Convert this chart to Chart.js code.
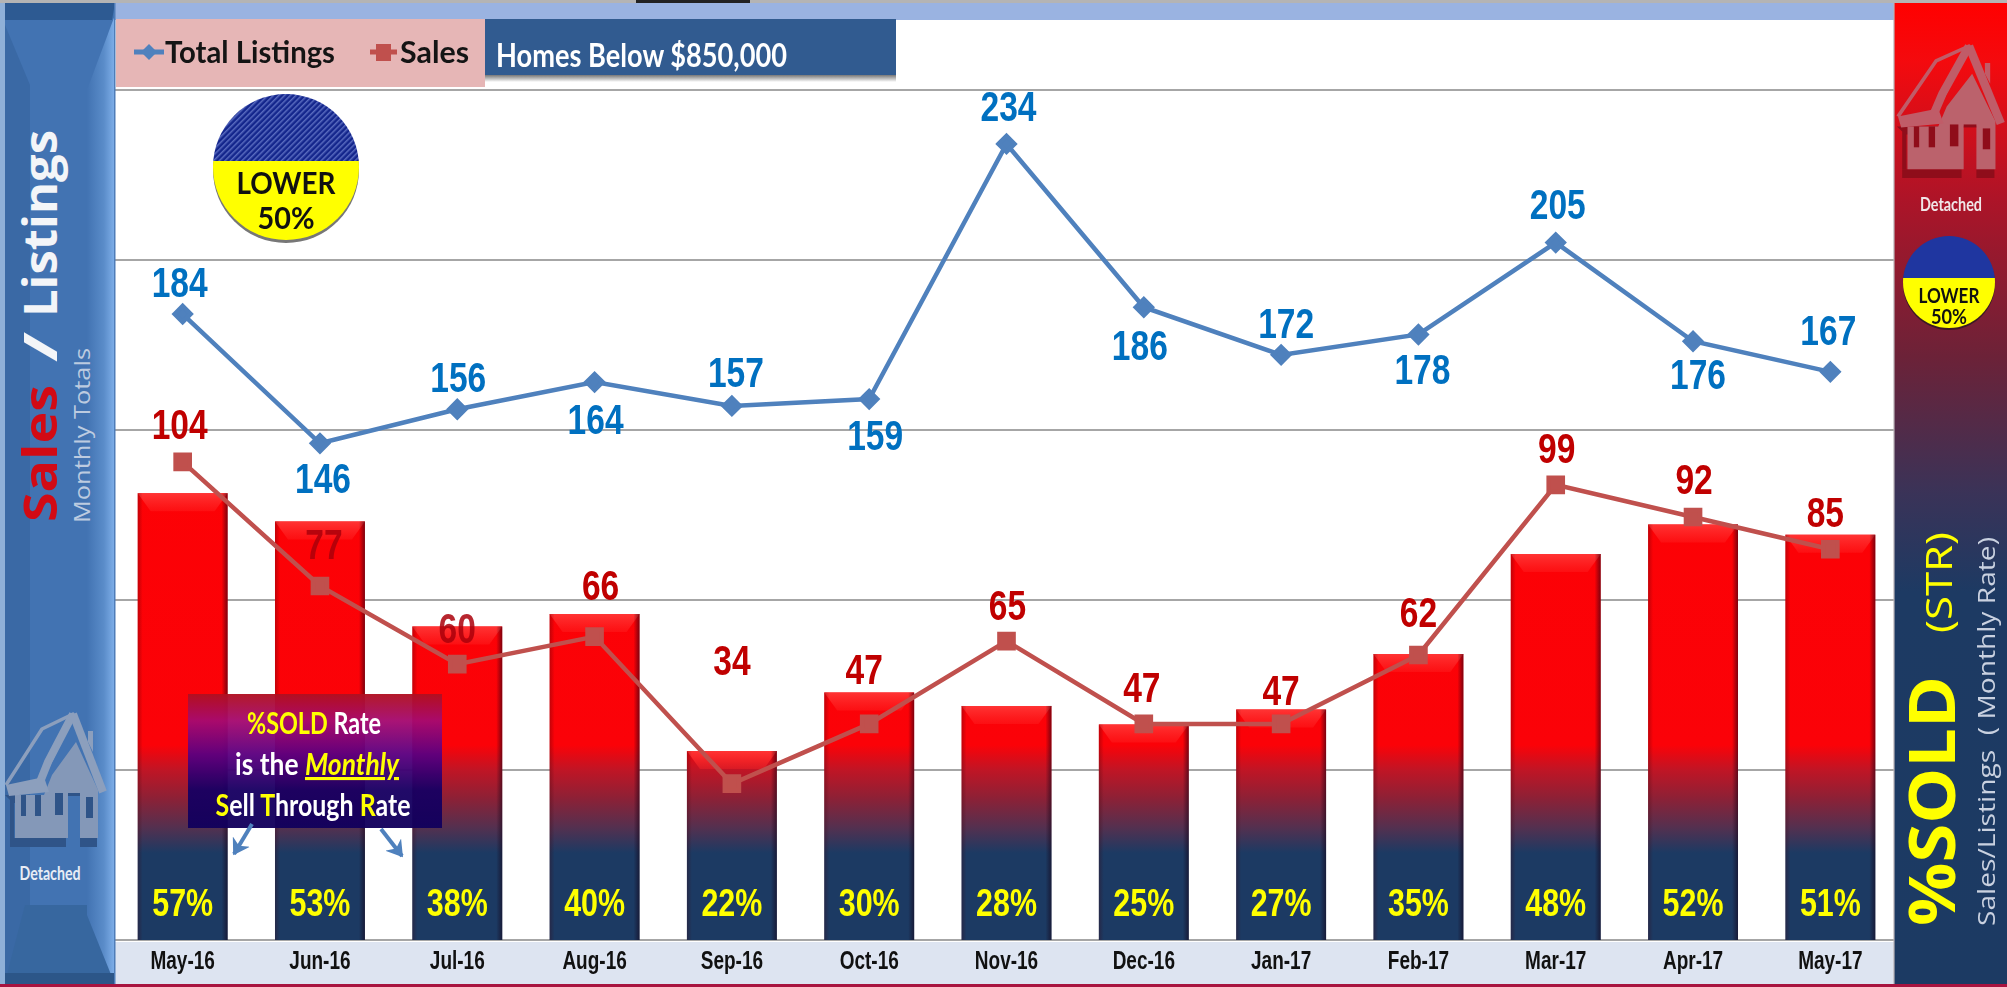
<!DOCTYPE html>
<html><head><meta charset="utf-8">
<script src="https://cdn.jsdelivr.net/npm/chart.js@4"></script>
<style>
html,body{margin:0;padding:0;background:#fff;overflow:hidden}
#wrap{position:relative;width:2007px;height:987px}
#wrap>*{position:absolute;left:0;top:0}
text{font-family:Lato,"Open Sans",sans-serif}
</style></head><body>
<div id="wrap">
<svg id="under" width="2007" height="987">
  <defs>
    <linearGradient id="boxShade" x1="0" y1="0" x2="0" y2="1"><stop offset="0" stop-color="#777"/><stop offset="1" stop-color="#fff"/></linearGradient>
  </defs>
  <rect x="115" y="3" width="1780" height="17" fill="#9ab3e1"/>
  <rect x="116" y="19" width="369" height="68" fill="#e6b6b6"/>
  <rect x="485" y="75" width="411" height="7" fill="url(#boxShade)"/>
  <rect x="485" y="19" width="411" height="56" fill="#315b90"/>
  <rect x="115" y="942" width="1780" height="42" fill="#dde4f1"/>
</svg>
<canvas id="chart" width="2007" height="987"></canvas>
<svg id="over" width="2007" height="987">
  <defs>
    <linearGradient id="leftBevel" x1="0" y1="0" x2="1" y2="0"><stop offset="0" stop-color="#4273b2"/><stop offset=".6" stop-color="#5a8cc9"/><stop offset="1" stop-color="#80b0ea"/></linearGradient>
    <linearGradient id="rightV" x1="0" y1="0" x2="0" y2="1">
      <stop offset="0" stop-color="#ff0000"/><stop offset=".06" stop-color="#f40a0e"/><stop offset=".2" stop-color="#ad1428"/><stop offset=".36" stop-color="#6c2238"/><stop offset=".5" stop-color="#3a3358"/><stop offset=".6" stop-color="#1d3a63"/><stop offset="1" stop-color="#1c3a63"/></linearGradient>
    <linearGradient id="infoGrad" x1="0" y1="0" x2="0" y2="1">
      <stop offset="0" stop-color="#b01020"/><stop offset=".2" stop-color="#a60a70"/><stop offset=".45" stop-color="#5c0080"/><stop offset=".72" stop-color="#180062"/><stop offset="1" stop-color="#12005c"/></linearGradient>
    <pattern id="hatch" width="4" height="4" patternUnits="userSpaceOnUse" patternTransform="rotate(45)">
      <rect width="4" height="4" fill="#14268c"/><rect width="1.5" height="4" fill="#5a6cc0"/></pattern>
    <clipPath id="clipBig"><circle cx="286" cy="167" r="73"/></clipPath>
    <clipPath id="clipSmall"><circle cx="1949" cy="282" r="46"/></clipPath>
    <marker id="ah" markerWidth="5" markerHeight="5" refX="3.6" refY="2.5" orient="auto"><path d="M0 0L4 2.5L0 5L1.2 2.5Z" fill="#4f81bd"/></marker>
    <g id="house">
      <path d="M10 838H66V847H10Z M80 838H97V847H80Z" fill="var(--h3)"/>
      <path d="M5 795H48V803H14V838H10V800Z" fill="var(--h3)"/>
      <path d="M6 785L42 729L73 714L44 775" fill="none" stroke="var(--h)" stroke-width="3.5" stroke-linejoin="round"/>
      <path d="M73 714L48 762L40 782" fill="none" stroke="var(--h)" stroke-width="8"/>
      <path d="M73 714L103 792" fill="none" stroke="var(--h)" stroke-width="8"/>
      <path d="M76 742L98 790V838H80V795H68V838H15V795H44L52 775Z" fill="var(--h2)"/>
      <path d="M6 785L44 777L49 792L9 796Z" fill="var(--h)"/>
      <path d="M88 731H93V752L88 742Z" fill="var(--h)"/>
      <g fill="var(--h3)"><rect x="21" y="795" width="5" height="21"/><rect x="35" y="795" width="6" height="21"/><rect x="55" y="793" width="8" height="22"/><rect x="86" y="797" width="7" height="21"/><rect x="68" y="793" width="12" height="3"/></g>
    </g>
  </defs>
  <!-- top strip -->
  <rect x="0" y="0" width="2007" height="3" fill="#b4b4b4"/>
  <rect x="636" y="0" width="114" height="3" fill="#222"/>
  <!-- bottom strip -->
  <rect x="0" y="984" width="2007" height="3" fill="#a8133f"/>

  <!-- left panel -->
  <rect x="0" y="3" width="115" height="981" fill="#4273b2"/>
  <rect x="0" y="3" width="5" height="981" fill="#8fb0d8"/>
  <path d="M5 25L30 85V905L5 982Z" fill="#3a69a5"/>
  <path d="M5 982L25 905H87L114 982Z" fill="#37679f"/>
  <path d="M115 15L87 90V915L114 982Z" fill="url(#leftBevel)"/>
  <path d="M5 3H115L112 20H5Z" fill="#2d5a92"/>
  <rect x="5" y="973" width="109" height="11" fill="#2c5688"/>
  <rect x="114" y="3" width="1.5" height="981" fill="#4f7db8"/>
  <use href="#house" style="--h:#8c9fbd;--h2:#8498b8;--h3:#2f5488"/>
  <text x="50" y="880" text-anchor="middle" font-size="19" font-weight="700" fill="#e8edf5" textLength="61" lengthAdjust="spacingAndGlyphs">Detached</text>
  <g transform="translate(57,522) rotate(-90)">
    <text x="0" y="0" font-size="47" font-weight="700" fill="#d20a14" style="font-family:'Open Sans'" textLength="137" lengthAdjust="spacingAndGlyphs">Sales</text>
    <text x="160" y="0" font-size="47" font-weight="700" fill="#f3f5f8" style="font-family:'Open Sans'" textLength="30" lengthAdjust="spacingAndGlyphs">/</text>
    <text x="205" y="0" font-size="47" font-weight="700" fill="#f3f5f8" style="font-family:'Open Sans'" textLength="187" lengthAdjust="spacingAndGlyphs">Listings</text>
  </g>
  <g transform="translate(90,523) rotate(-90)"><text font-size="21" fill="#bccbe0" style="font-family:'Open Sans'" textLength="175" lengthAdjust="spacingAndGlyphs">Monthly Totals</text></g>

  <!-- right panel -->
  <rect x="1894" y="3" width="113" height="981" fill="url(#rightV)"/>
  <rect x="1893" y="3" width="2" height="981" fill="#b9b3b8" opacity=".6"/>
  <g transform="translate(1891.6,-663) scale(1.06,.993)"><use href="#house" style="--h:#c05c68;--h2:#bb626c;--h3:#8f0d1a"/></g>
  <text x="1951" y="211" text-anchor="middle" font-size="18" font-weight="700" fill="#f0e6e8" textLength="62" lengthAdjust="spacingAndGlyphs">Detached</text>

  <!-- small badge -->
  <circle cx="1949" cy="284" r="46" fill="#3a1a24"/>
  <g clip-path="url(#clipSmall)"><rect x="1900" y="230" width="100" height="48" fill="#1f36a0"/><rect x="1900" y="278" width="100" height="52" fill="#ffff00"/></g>
  <text x="1949" y="303" text-anchor="middle" font-size="21" font-weight="700" fill="#111" textLength="61" lengthAdjust="spacingAndGlyphs">LOWER</text>
  <text x="1949" y="324" text-anchor="middle" font-size="21" font-weight="700" fill="#111" textLength="36" lengthAdjust="spacingAndGlyphs">50%</text>

  <!-- right rotated text -->
  <g transform="translate(1955,926) rotate(-90)"><text font-size="65" font-weight="700" fill="#ffff00" style="font-family:'Open Sans'" textLength="250" lengthAdjust="spacingAndGlyphs">%SOLD</text></g>
  <g transform="translate(1952,633) rotate(-90)"><text font-size="37" fill="#ffff00" style="font-family:'Open Sans'" textLength="101" lengthAdjust="spacingAndGlyphs">(STR)</text></g>
  <g transform="translate(1995,926) rotate(-90)"><text font-size="24" fill="#c9d1e0" style="font-family:'Open Sans'" textLength="389" lengthAdjust="spacingAndGlyphs">Sales/Listings&#160;&#160;( Monthly Rate)</text></g>

  <!-- big badge -->
  <circle cx="286" cy="170" r="73" fill="#777"/>
  <g clip-path="url(#clipBig)"><rect x="210" y="90" width="152" height="71" fill="url(#hatch)"/><rect x="210" y="161" width="152" height="85" fill="#ffff00"/></g>
  <text x="286" y="194" text-anchor="middle" font-size="31" font-weight="700" fill="#111" textLength="99" lengthAdjust="spacingAndGlyphs">LOWER</text>
  <text x="286" y="229" text-anchor="middle" font-size="31" font-weight="700" fill="#111" textLength="57" lengthAdjust="spacingAndGlyphs">50%</text>

  <!-- legend -->
  <path d="M134 52H164" stroke="#4f81bd" stroke-width="5"/><path d="M149 44L157 52L149 60L141 52Z" fill="#4f81bd"/>
  <text x="165" y="63" font-size="31" font-weight="700" fill="#141414" textLength="170" lengthAdjust="spacingAndGlyphs">Total Listings</text>
  <path d="M370 52H397" stroke="#c0504d" stroke-width="5"/><rect x="376" y="44" width="15" height="17" fill="#c0504d"/>
  <text x="400" y="63" font-size="31" font-weight="700" fill="#141414" textLength="69" lengthAdjust="spacingAndGlyphs">Sales</text>
  <text x="496" y="67" font-size="32" font-weight="700" fill="#fff" textLength="291" lengthAdjust="spacingAndGlyphs">Homes Below $850,000</text>

  <!-- info box -->
  <rect x="188" y="694" width="254" height="134" fill="url(#infoGrad)" opacity=".96"/>
  <text x="314" y="734" text-anchor="middle" font-size="31" font-weight="700" fill="#fff" textLength="134" lengthAdjust="spacingAndGlyphs"><tspan fill="#ffff00">%SOLD</tspan> Rate</text>
  <text x="317" y="775" text-anchor="middle" font-size="31" font-weight="700" fill="#fff" textLength="164" lengthAdjust="spacingAndGlyphs">is the <tspan fill="#ffff00" font-style="italic" text-decoration="underline">Monthly</tspan></text>
  <text x="313" y="816" text-anchor="middle" font-size="31" font-weight="700" fill="#fff" textLength="195" lengthAdjust="spacingAndGlyphs"><tspan fill="#ffff00">S</tspan>ell <tspan fill="#ffff00">T</tspan>hrough <tspan fill="#ffff00">R</tspan>ate</text>
  <path d="M252 824L234 854" stroke="#4f81bd" stroke-width="4" marker-end="url(#ah)"/>
  <path d="M381 829L402 856" stroke="#4f81bd" stroke-width="4" marker-end="url(#ah)"/>
</svg>
</div>
<script>
const categories = ['May-16','Jun-16','Jul-16','Aug-16','Sep-16','Oct-16','Nov-16','Dec-16','Jan-17','Feb-17','Mar-17','Apr-17','May-17'];
const totalListings = [184,146,156,164,157,159,234,186,172,178,205,176,167];
const sales = [104,77,60,66,34,47,65,47,47,62,99,92,85];
const soldRate = [56.5,52.7,38.5,40.2,21.7,29.6,27.8,25.3,27.3,34.8,48.3,52.3,50.9];
const soldLabels = ['57%','53%','38%','40%','22%','30%','28%','25%','27%','35%','48%','52%','51%'];
const listingTicks = [0,50,100,150,200,250];

// label placement relative to each point (centre of text, px from the point)
const listingOffsetY = [-29,38,-29,40,-31,39,-35,41,-29,38,-35,36,-39];
const listingOffsetX = [-3,3,1,1,4,6,2,-4,5,4,2,5,-2];
const salesOffsetY = [-35,-39,-33,-48,-121,-52,-33,-34,-31,-40,-34,-35,-34];
const salesOffsetX = [-3,4,0,6,0,-5,1,-2,0,0,1,1,-5];

const FONT = '"Liberation Sans",sans-serif';

const barGradient = (chart) => {
  const g = chart.ctx.createLinearGradient(0, 0, 0, chart.height);
  const h = chart.height;
  g.addColorStop(0, '#ff0000');
  g.addColorStop(745 / h, '#fb0208');
  g.addColorStop(770 / h, '#c01525');
  g.addColorStop(797 / h, '#8f2035');
  g.addColorStop(827 / h, '#55304f');
  g.addColorStop(853 / h, '#1c3a63');
  g.addColorStop(1, '#1c3a63');
  return g;
};

// condensed bold text: the installed fonts have no narrow cut
function narrow(c, text, x, y, sx) {
  c.save();
  c.translate(x, y);
  c.scale(sx, 1);
  c.fillText(text, 0, 0);
  c.restore();
}

const decorate = {
  id: 'decorate',
  afterDatasetDraw(chart, args) {
    if (args.index !== 0) return;
    const c = chart.ctx;
    c.save();
    chart.getDatasetMeta(0).data.forEach(b => {
      const l = b.x - b.width / 2, r = b.x + b.width / 2, t = b.y, bt = b.base;
      let g = c.createLinearGradient(0, t, 0, t + 18);
      g.addColorStop(0, '#ff3434'); g.addColorStop(1, 'rgba(255,40,40,.35)');
      c.fillStyle = g;
      c.beginPath(); c.moveTo(l, t); c.lineTo(r, t); c.lineTo(r - 13, t + 18); c.lineTo(l + 13, t + 18); c.closePath(); c.fill();
      g = c.createLinearGradient(l, 0, l + 5, 0);
      g.addColorStop(0, 'rgba(60,0,10,.3)'); g.addColorStop(1, 'rgba(60,0,10,0)');
      c.fillStyle = g; c.fillRect(l, t, 5, bt - t);
      g = c.createLinearGradient(r - 6, 0, r, 0);
      g.addColorStop(0, 'rgba(20,0,20,0)'); g.addColorStop(1, 'rgba(20,0,20,.55)');
      c.fillStyle = g; c.fillRect(r - 6, t, 6, bt - t);
    });
    c.restore();
  },
  afterDatasetsDraw(chart) {
    const c = chart.ctx;
    c.save();
    c.textAlign = 'center'; c.textBaseline = 'middle';
    c.font = 'bold 43px ' + FONT;
    chart.getDatasetMeta(1).data.forEach((p, i) => {
      c.fillStyle = '#0070c0';
      narrow(c, totalListings[i], p.x + listingOffsetX[i], p.y + listingOffsetY[i], .78);
    });
    chart.getDatasetMeta(2).data.forEach((p, i) => {
      c.fillStyle = (i === 1 || i === 2) ? 'rgba(170,0,10,.85)' : '#c00000';
      narrow(c, sales[i], p.x + salesOffsetX[i], p.y + salesOffsetY[i], .78);
    });
    c.font = 'bold 39px ' + FONT;
    c.fillStyle = '#ffff00';
    chart.getDatasetMeta(0).data.forEach((b, i) => narrow(c, soldLabels[i], b.x, b.base - 35, .78));
    const xs = chart.scales.x;
    c.font = 'bold 25px ' + FONT;
    c.fillStyle = '#111';
    xs.ticks.forEach((t, i) => narrow(c, t.label, xs.getPixelForTick(i), chart.chartArea.bottom + 22, .76));
    c.restore();
  }
};

new Chart(document.getElementById('chart'), {
  data: {
    labels: categories,
    datasets: [
      { type: 'bar', label: '%SOLD', data: soldRate, yAxisID: 'yRate', order: 3, base: -3.8,
        backgroundColor: ctx => barGradient(ctx.chart), categoryPercentage: .655, barPercentage: 1, borderWidth: 0 },
      { type: 'line', label: 'Total Listings', data: totalListings, yAxisID: 'y', order: 1,
        borderColor: '#4f81bd', backgroundColor: '#4f81bd', borderWidth: 4.5, pointStyle: 'rectRot', pointRadius: 8, tension: 0 },
      { type: 'line', label: 'Sales', data: sales, yAxisID: 'ySales', order: 2,
        borderColor: '#c0504d', backgroundColor: '#c0504d', borderWidth: 4.5, pointStyle: 'rect', pointRadius: 10, tension: 0 }
    ]
  },
  options: {
    responsive: false, animation: false, devicePixelRatio: 1,
    layout: { padding: { left: 114, right: 108, top: 89.5, bottom: 0 } },
    plugins: { legend: { display: false }, tooltip: { enabled: false } },
    scales: {
      x: { offset: true, grid: { display: false, drawTicks: false }, border: { display: false },
           afterFit(s) { s.height = 47; },
           ticks: { display: false, autoSkip: false, maxRotation: 0 } },
      y: { min: 0, max: 250, afterBuildTicks(s) { s.ticks = listingTicks.map(v => ({ value: v })); },
           grid: { color: '#a6a6a6', lineWidth: 2, drawTicks: false }, border: { display: false }, ticks: { display: false } },
      ySales: { display: false, min: 0, max: 185 },
      yRate: { display: false, min: -3.8, max: 111 }
    }
  },
  plugins: [decorate]
});
</script>
</body></html>
